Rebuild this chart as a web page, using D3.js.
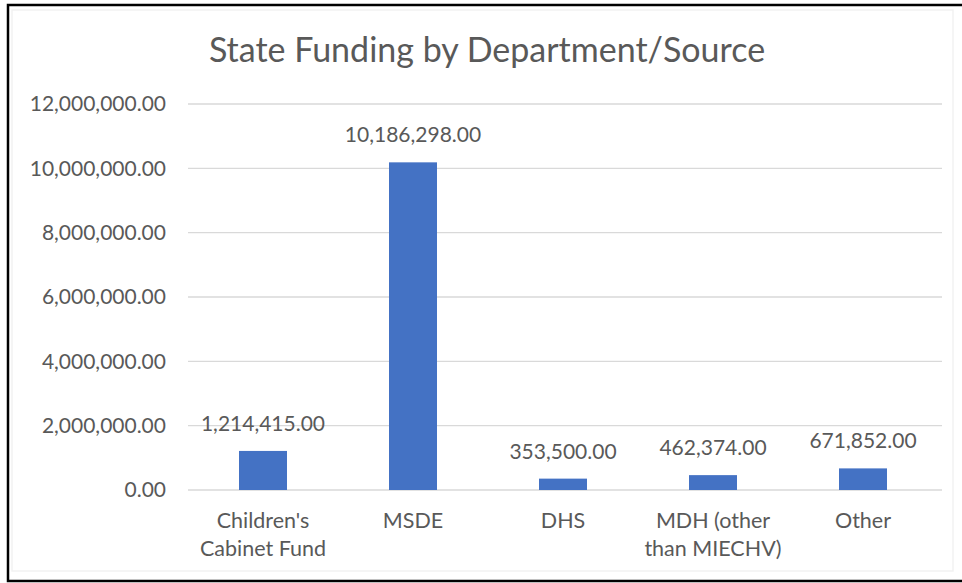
<!DOCTYPE html>
<html>
<head>
<meta charset="utf-8">
<script src="https://cdn.jsdelivr.net/npm/d3@7"></script>
<style>
  body { margin: 0; background: #fff; }
  svg { display: block; }
  text { font-family: Lato, "Open Sans", sans-serif; fill: #595959; }
</style>
</head>
<body>
<div id="chart"></div>
<script>
// chart data
const categories = [["Children's", "Cabinet Fund"], ["MSDE"], ["DHS"], ["MDH (other", "than MIECHV)"], ["Other"]]
const funding = [1214415, 10186298, 353500, 462374, 671852]
const yTicks = [0, 2000000, 4000000, 6000000, 8000000, 10000000, 12000000]
const title = "State Funding by Department/Source"

const W = 962, H = 583
const margin = {top: 104, right: 24, bottom: 93, left: 188}
const width = 938 - margin.left
const height = 490 - margin.top

const svg = d3.select("#chart")
  .append("svg")
  .attr("width", W)
  .attr("height", H)

// outer frame (right edge is cut off in the original)
svg.append("rect")
  .attr("x", 12).attr("y", 10)
  .attr("width", 941).attr("height", 561)
  .attr("fill", "none")
  .attr("stroke", "#f2f2f2")
  .attr("stroke-width", 1.5)
svg.append("rect")
  .attr("x", 8).attr("y", 5)
  .attr("width", 990).attr("height", 576)
  .attr("fill", "none")
  .attr("stroke", "#000")
  .attr("stroke-width", 2.5)

const g = svg.append("g")
  .attr("transform", `translate(${margin.left}, ${margin.top})`)

const fmt = d3.format(",.2f")

const x = d3.scaleBand()
  .range([0, width])
  .domain(d3.range(categories.length))
  .paddingInner(0.68)
  .paddingOuter(0.34)

const y = d3.scaleLinear()
  .range([height, 0])
  .domain([0, 12000000])

// gridlines
g.append("g")
  .selectAll("line")
  .data(yTicks)
  .join("line")
    .attr("x1", 0)
    .attr("x2", width + 4)
    .attr("y1", d => y(d))
    .attr("y2", d => y(d))
    .attr("stroke", "#d9d9d9")
    .attr("stroke-width", 1.3)

// y axis labels
const yAxis = g.append("g")
  .call(d3.axisLeft(y).tickValues(yTicks).tickFormat(fmt).tickSize(0).tickPadding(22))
yAxis.select(".domain").remove()
yAxis.selectAll("text")
  .style("font-size", "21px")
  .attr("fill", "#595959")
  .style("font-family", "Lato, 'Open Sans', sans-serif")

// bars
g.selectAll(".bar")
  .data(funding)
  .join("rect")
    .attr("class", "bar")
    .attr("x", (d, i) => x(i))
    .attr("y", d => y(d))
    .attr("width", x.bandwidth())
    .attr("height", d => height - y(d))
    .attr("fill", "#4472c4")

// value labels
g.selectAll(".val")
  .data(funding)
  .join("text")
    .attr("class", "val")
    .attr("x", (d, i) => x(i) + x.bandwidth() / 2)
    .attr("y", d => y(d) - 20)
    .attr("text-anchor", "middle")
    .style("font-size", "21px")
    .text(d => fmt(d))

// category labels
const cat = g.selectAll(".cat")
  .data(categories)
  .join("text")
    .attr("class", "cat")
    .attr("x", (d, i) => x(i) + x.bandwidth() / 2)
    .attr("y", height + 38)
    .attr("text-anchor", "middle")
    .style("font-size", "21.5px")
cat.selectAll("tspan")
  .data(d => d)
  .join("tspan")
    .attr("x", function() { return this.parentNode.getAttribute("x") })
    .attr("dy", (d, i) => i === 0 ? 0 : 28)
    .text(d => d)

// title
svg.append("text")
  .attr("x", 487)
  .attr("y", 62)
  .attr("text-anchor", "middle")
  .style("font-size", "34px")
  .text(title)
</script>
</body>
</html>
